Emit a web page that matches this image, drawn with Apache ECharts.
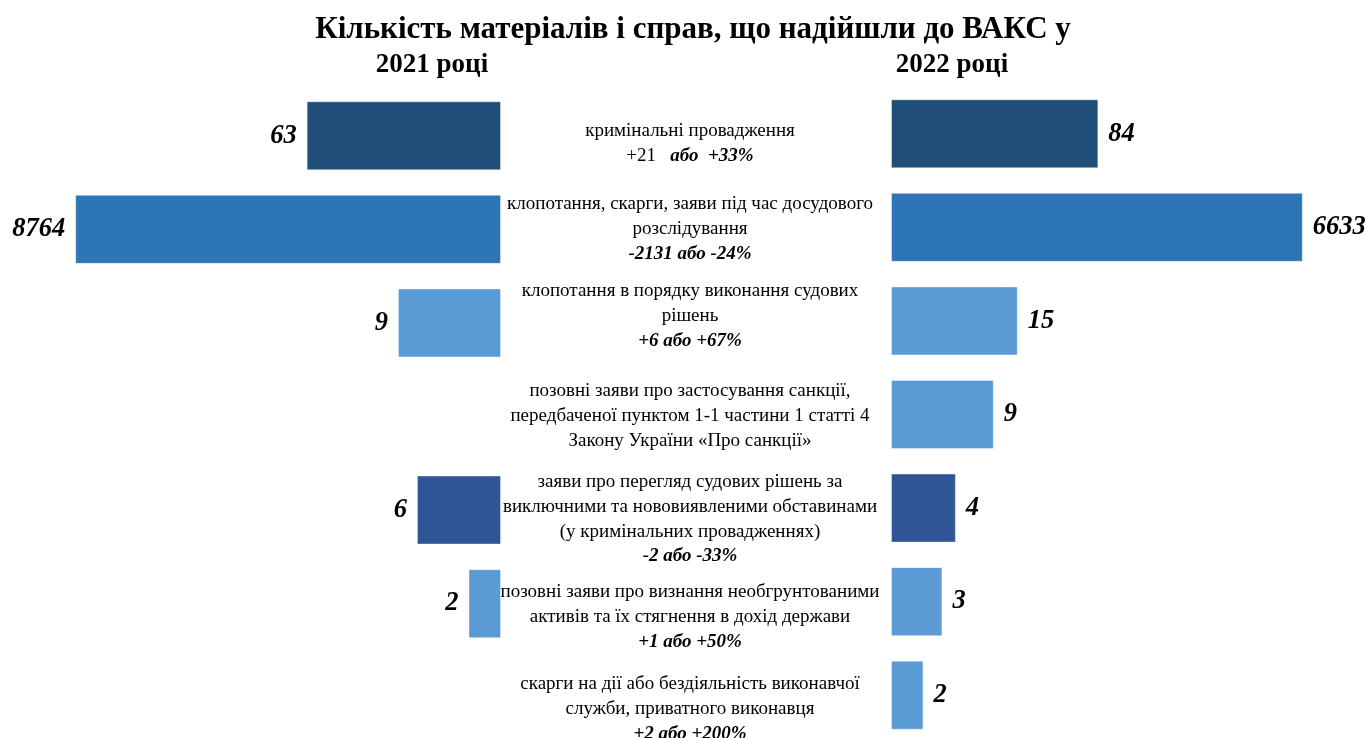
<!DOCTYPE html>
<html>
<head>
<meta charset="utf-8">
<script src="https://cdn.jsdelivr.net/npm/echarts@6/dist/echarts.min.js"></script>
<style>
  html, body { margin: 0; padding: 0; background: #fff; }
  #chart { width: 1365px; height: 738px; }
</style>
</head>
<body>
<div id="chart"></div>
<script>
const categories = [
  "кримінальні провадження",
  "клопотання, скарги, заяви під час досудового\nрозслідування",
  "клопотання в порядку виконання судових\nрішень",
  "позовні заяви про застосування санкції,\nпередбаченої пунктом 1-1 частини 1 статті 4\nЗакону України «Про санкції»",
  "заяви про перегляд судових рішень за\nвиключними та нововиявленими обставинами\n(у кримінальних провадженнях)",
  "позовні заяви про визнання необгрунтованими\nактивів та їх стягнення в дохід держави",
  "скарги на дії або бездіяльність виконавчої\nслужби, приватного виконавця"
];
const changes = ["+21   |або  +33%", "-2131 або -24%", "+6 або +67%", "", "-2 або -33%", "+1 або +50%", "+2 або +200%"];
const values2021 = [63, 8764, 9, null, 6, 2, null];
const values2022 = [84, 6633, 15, 9, 4, 3, 2];

// styling
const barColors = ["#1f4e79", "#2e75b6", "#5b9bd5", "#5b9bd5", "#2f5597", "#5b9bd5", "#5b9bd5"];
const textShift = [10, 1.5, -5, 2, 11, 15.5, 14];
const serif = "Liberation Serif";

function labelText(value, idx) {
  const lines = categories[idx].split("\n").map(l => "{t|" + l + "}");
  const ch = changes[idx];
  if (ch) {
    if (ch.indexOf("|") >= 0) {
      const [a, b] = ch.split("|");
      lines.push("{t|" + a + "}{b|" + b + "}");
    } else {
      lines.push("{b|" + ch + "}");
    }
  }
  return lines.join("\n");
}

const chart = echarts.init(document.getElementById("chart"));
const valueLabel = {
  show: true,
  fontFamily: serif,
  fontSize: 26.5,
  fontWeight: "bold",
  fontStyle: "italic",
  color: "#000",
  distance: 10
};

chart.setOption({
  animation: false,
  title: [
    {
      text: "Кількість матеріалів і справ, що надійшли до ВАКС у",
      left: 688, top: 9, textAlign: "center",
      textStyle: { fontFamily: serif, fontSize: 31, fontWeight: "bold", color: "#000" }
    },
    {
      text: "2021 році", left: 427, top: 47, textAlign: "center",
      textStyle: { fontFamily: serif, fontSize: 27, fontWeight: "bold", color: "#000" }
    },
    {
      text: "2022 році", left: 947, top: 47, textAlign: "center",
      textStyle: { fontFamily: serif, fontSize: 27, fontWeight: "bold", color: "#000" }
    }
  ],
  grid: [
    { left: 69, width: 432, top: 89, height: 655, outerBoundsMode: "none" },
    { left: 891, width: 431, top: 87, height: 655, outerBoundsMode: "none" }
  ],
  xAxis: [
    { gridIndex: 0, type: "log", min: 1, max: 10000, inverse: true, show: false },
    { gridIndex: 1, type: "log", min: 1, max: 10000, show: false }
  ],
  yAxis: [
    {
      gridIndex: 0, type: "category", data: categories, inverse: true,
      axisLine: { show: false }, axisTick: { show: false }, axisLabel: { show: false }
    },
    {
      gridIndex: 1, type: "category", inverse: true,
      data: categories.map((c, i) => ({
        value: c,
        textStyle: {
          align: "center",
          padding: textShift[i] > 0 ? [textShift[i] * 2, 0, 0, 0] : [0, 0, -textShift[i] * 2, 0]
        }
      })),
      axisLine: { show: false }, axisTick: { show: false },
      axisLabel: {
        show: true, interval: 0, hideOverlap: false, align: "center", margin: 201, lineHeight: 25,
        formatter: labelText,
        rich: {
          t: { fontFamily: serif, fontSize: 19, color: "#000", lineHeight: 25 },
          b: { fontFamily: serif, fontSize: 19, fontWeight: "bold", fontStyle: "italic", color: "#000", lineHeight: 25 }
        }
      }
    }
  ],
  series: [
    {
      name: "2021", type: "bar", xAxisIndex: 0, yAxisIndex: 0, barWidth: 69,
      data: values2021.map((v, i) => ({ value: v == null ? "-" : v, itemStyle: { color: barColors[i] } })),
      itemStyle: { borderColor: "rgba(255,255,255,0.4)", borderWidth: 1 },
      label: Object.assign({ position: "left" }, valueLabel)
    },
    {
      name: "2022", type: "bar", xAxisIndex: 1, yAxisIndex: 1, barWidth: 69,
      data: values2022.map((v, i) => ({ value: v == null ? "-" : v, itemStyle: { color: barColors[i] } })),
      itemStyle: { borderColor: "rgba(255,255,255,0.4)", borderWidth: 1 },
      label: Object.assign({ position: "right" }, valueLabel)
    }
  ]
});
</script>
</body>
</html>
